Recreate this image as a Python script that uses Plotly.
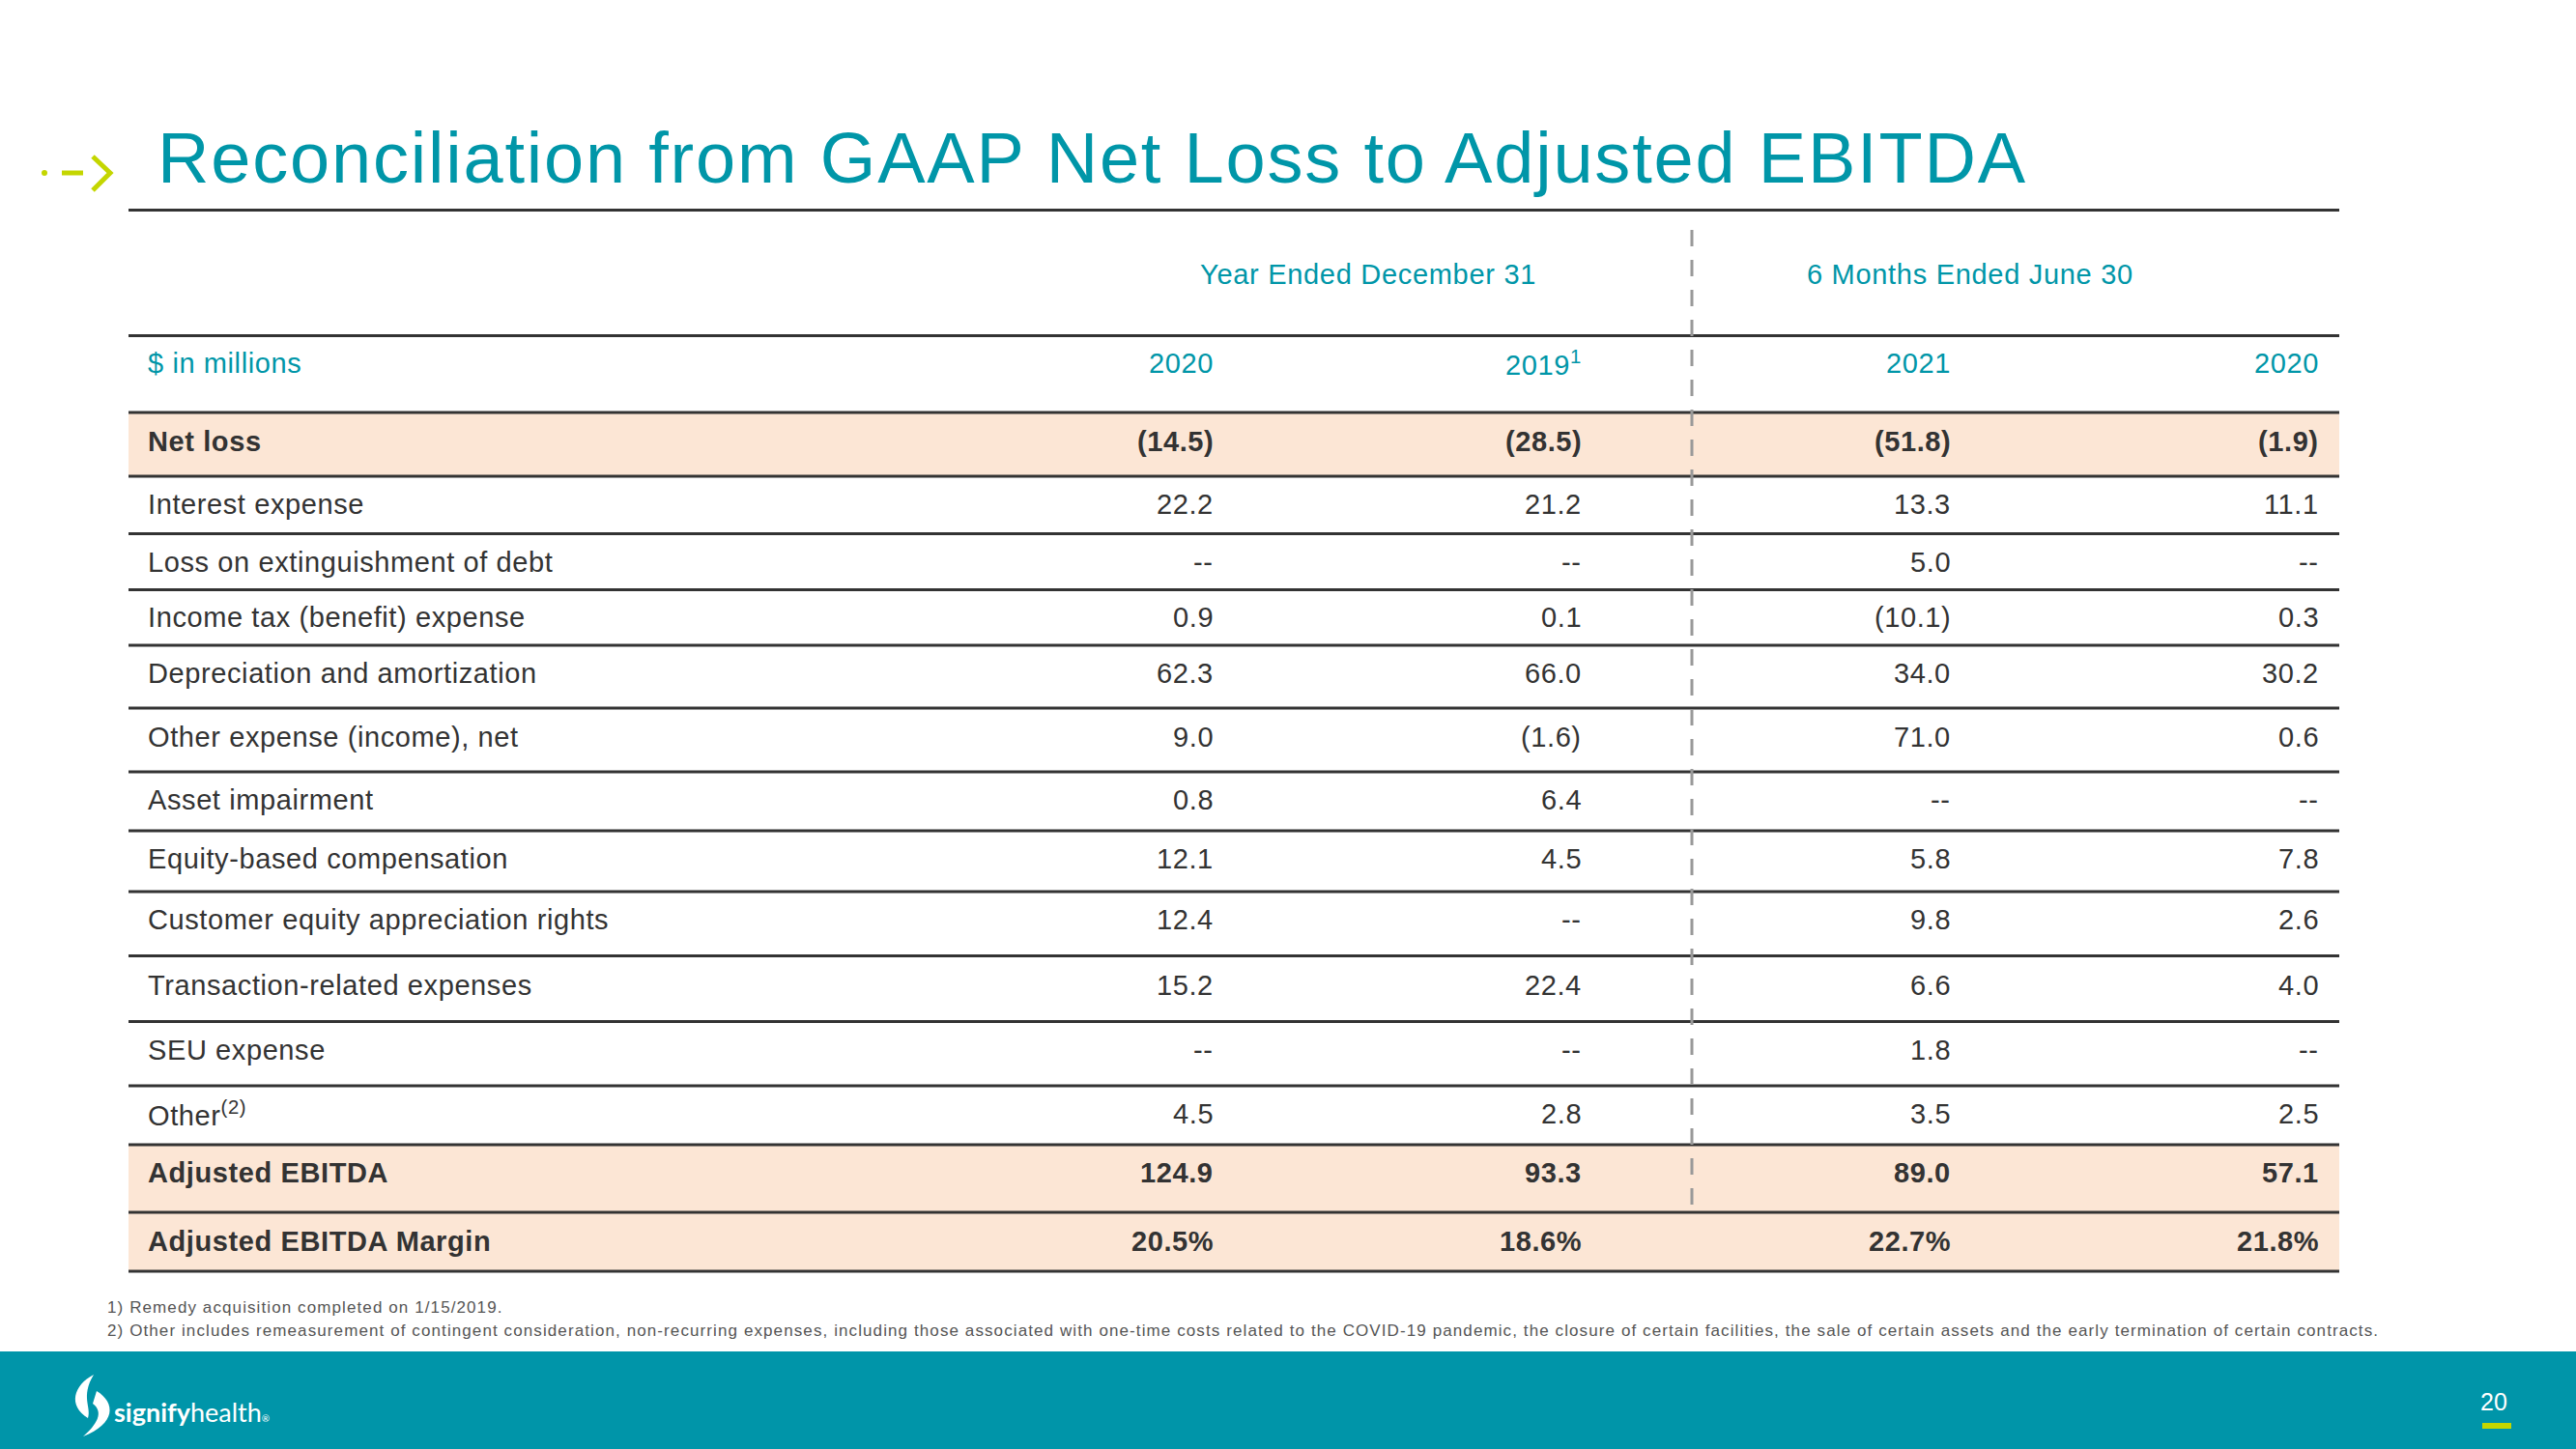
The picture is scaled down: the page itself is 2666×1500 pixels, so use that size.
import plotly.graph_objects as go

# ---------------- data ----------------
title_text = "Reconciliation from GAAP Net Loss to Adjusted EBITDA"
unit_label = "$ in millions"
period_groups = ["Year Ended December 31", "6 Months Ended June 30"]
column_labels = ["2020", "2019<sup>1</sup>", "2021", "2020"]
row_labels = [
    "Net loss", "Interest expense", "Loss on extinguishment of debt",
    "Income tax (benefit) expense", "Depreciation and amortization",
    "Other expense (income), net", "Asset impairment",
    "Equity-based compensation", "Customer equity appreciation rights",
    "Transaction-related expenses", "SEU expense", "Other<sup>(2)</sup>",
    "Adjusted EBITDA",
]
margin_label = "Adjusted EBITDA Margin"
fy2020 = [-14.5, 22.2, None, 0.9, 62.3, 9.0, 0.8, 12.1, 12.4, 15.2, None, 4.5, 124.9]
fy2019 = [-28.5, 21.2, None, 0.1, 66.0, -1.6, 6.4, 4.5, None, 22.4, None, 2.8, 93.3]
h1_2021 = [-51.8, 13.3, 5.0, -10.1, 34.0, 71.0, None, 5.8, 9.8, 6.6, 1.8, 3.5, 89.0]
h1_2020 = [-1.9, 11.1, None, 0.3, 30.2, 0.6, None, 7.8, 2.6, 4.0, None, 2.5, 57.1]
ebitda_margin = [20.5, 18.6, 22.7, 21.8]
footnotes = [
    "1) Remedy acquisition completed on 1/15/2019.",
    "2) Other includes remeasurement of contingent consideration, non-recurring expenses, including those associated with one-time costs related to the COVID-19 pandemic, the closure of certain facilities, the sale of certain assets and the early termination of certain contracts.",
]
page_number = "20"

# ---------------- layout constants ----------------
W, H = 2666, 1500
TEAL = "#0096A8"
TEXT = "#333333"
LINE = "#333333"
PEACH = "#FCE6D5"
LIME = "#C4D600"
FONT = "Liberation Sans, Arial, sans-serif"
X0, X1 = 133, 2421
label_x = 151
col_right = [1258, 1639, 2021, 2402]
group_cx = [1416, 2039]
row_bounds = [427, 493, 552.6, 610.4, 668, 733, 799, 860, 923, 989.6, 1057.6, 1124, 1185, 1255, 1316]
row_text_y = [457, 522, 581.5, 639, 697, 763, 828, 889, 952, 1020, 1086.5, 1153, 1214, 1285]
bold_rows = {0, 12}
BODY = 29
LS = 0.6


def ls(text, px):
    return f'<span style="letter-spacing:{px}px">{text}</span>'


def fmt(v):
    if v is None:
        return "--"
    if v < 0:
        return f"({abs(v):.1f})"
    return f"{v:.1f}"


fig = go.Figure()
fig.add_trace(go.Scatter(x=[0, W], y=[0, H], mode="markers",
                         marker=dict(opacity=0), hoverinfo="skip", showlegend=False))

shapes = []
annotations = []

# footer band
shapes.append(dict(type="rect", xref="x", yref="y", x0=0, x1=W, y0=1399, y1=H,
                   fillcolor="#0095A9", line=dict(width=0), layer="below"))
# peach rows
for top, bot in [(row_bounds[0], row_bounds[1]), (row_bounds[12], row_bounds[13]),
                 (row_bounds[13], row_bounds[14])]:
    shapes.append(dict(type="rect", xref="x", yref="y", x0=X0, x1=X1, y0=top, y1=bot,
                       fillcolor=PEACH, line=dict(width=0), layer="below"))

# horizontal rules
for y in [217.6, 347.5] + row_bounds:
    shapes.append(dict(type="line", xref="x", yref="y", x0=X0, x1=X1, y0=y, y1=y,
                       line=dict(color=LINE, width=3)))

# dashed divider
shapes.append(dict(type="line", xref="x", yref="y", x0=1751, x1=1751, y0=238, y1=1250,
                   line=dict(color="#999999", width=3, dash="17px,14px")))

# arrow icon
shapes.append(dict(type="circle", xref="x", yref="y", x0=43, x1=49, y0=176, y1=182,
                   fillcolor=LIME, line=dict(width=0)))
shapes.append(dict(type="line", xref="x", yref="y", x0=64, x1=86, y0=179, y1=179,
                   line=dict(color=LIME, width=5)))
shapes.append(dict(type="path", xref="x", yref="y", path="M 96 162 L 114 179 L 96 197",
                   line=dict(color=LIME, width=5)))

# logo flame
shapes.append(dict(type="path", xref="x", yref="y",
                   path="M 97 1423 C 76 1434, 70 1455, 91 1468 C 95 1457, 83 1446, 97 1423 Z",
                   fillcolor="white", line=dict(width=0)))
shapes.append(dict(type="path", xref="x", yref="y",
                   path="M 100 1440 C 120 1452, 120 1474, 86 1487 C 100 1475, 108 1462, 96 1453 Z",
                   fillcolor="white", line=dict(width=0)))

# page number bar
shapes.append(dict(type="line", xref="x", yref="y", x0=2569, x1=2599, y0=1476, y1=1476,
                   line=dict(color=LIME, width=6)))


def ann(x, y, text, size=BODY, color=TEXT, family=FONT, xanchor="left", spacing=LS, bold=False):
    t = ls(text, spacing) if spacing else text
    if bold:
        t = f"<b>{t}</b>"
    annotations.append(dict(x=x, y=y, xref="x", yref="y", text=t, showarrow=False,
                            xanchor=xanchor, yanchor="middle",
                            font=dict(family=family, size=size, color=color)))


# title
ann(161, 163, title_text, size=74, color=TEAL, spacing=1.8)

# header
for cx, g in zip(group_cx, period_groups):
    ann(cx, 284, g, color=TEAL, xanchor="center", spacing=0.7)
ann(label_x, 376, unit_label, color=TEAL)
for xr, c in zip(col_right, column_labels):
    ann(xr, 376, c, color=TEAL, xanchor="right")

# body
columns = [fy2020, fy2019, h1_2021, h1_2020]
for i, lab in enumerate(row_labels):
    b = i in bold_rows
    ann(label_x, row_text_y[i], lab, bold=b)
    for xr, col in zip(col_right, columns):
        ann(xr, row_text_y[i], fmt(col[i]), xanchor="right", bold=b)
ann(label_x, row_text_y[13], margin_label, bold=True)
for xr, m in zip(col_right, ebitda_margin):
    ann(xr, row_text_y[13], f"{m:.1f}%", xanchor="right", bold=True)

# footnotes
ann(109, 1353, footnotes[0], size=17, color="#555555", spacing=1.1)
ann(109, 1377, footnotes[1], size=17, color="#555555", spacing=1.1)

# logo text
annotations.append(dict(x=116, y=1461, xref="x", yref="y", showarrow=False, xanchor="left",
                        yanchor="middle",
                        text="<b>signify</b>health<span style='font-size:10px'>®</span>",
                        font=dict(family="Lato", size=27, color="white")))
# page number
ann(2581, 1451, page_number, size=25, color="white", xanchor="center", spacing=0)

fig.update_layout(
    width=W, height=H, margin=dict(l=0, r=0, t=0, b=0),
    paper_bgcolor="white", plot_bgcolor="white",
    xaxis=dict(range=[0, W], visible=False, fixedrange=True),
    yaxis=dict(range=[H, 0], visible=False, fixedrange=True),
    shapes=shapes, annotations=annotations, showlegend=False,
)
fig.write_html("out.html", config={"displayModeBar": False},
               post_script="document.body.style.margin='0';")
